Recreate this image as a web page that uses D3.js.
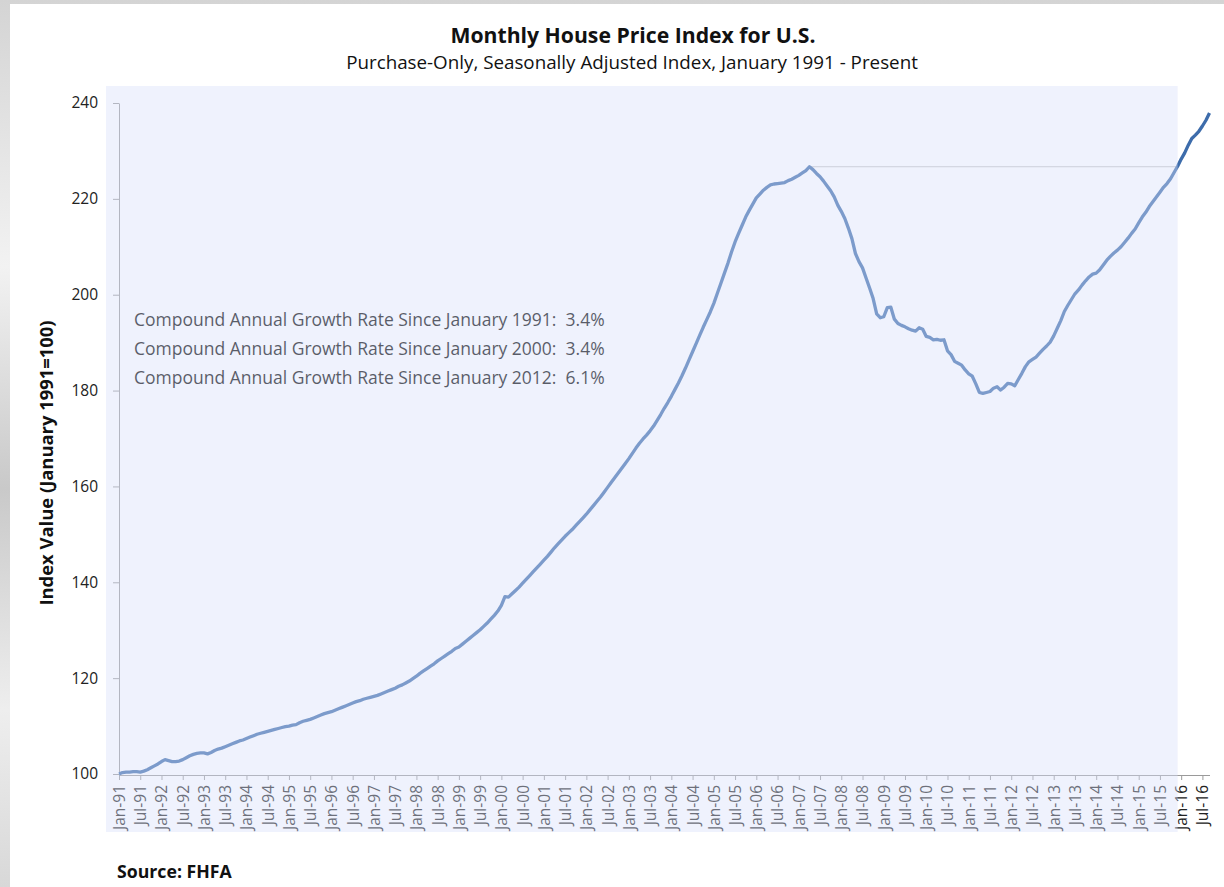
<!DOCTYPE html>
<html lang="en">
<head>
<meta charset="UTF-8" />
<script src="https://d3js.org/d3.v7.min.js"></script>
<title>Monthly House Price Index for U.S.</title>
<style>
  html, body { margin: 0; padding: 0; width: 1224px; height: 887px; overflow: hidden; }
  body { font-family: "Open Sans", Lato, sans-serif; background: #fff; }
</style>
</head>
<body>
<svg id="chart" width="1224" height="887"></svg>
<script>
// purchase-only SA index, Jan 1991 = 100, one row per year (Jan..Dec)
var hpi = [
  100.0, 100.3, 100.4, 100.4, 100.5, 100.5, 100.4, 100.6, 100.9, 101.3, 101.7, 102.1, // 1991
  102.6, 103.0, 102.8, 102.6, 102.6, 102.7, 103.0, 103.4, 103.8, 104.1, 104.3, 104.4, // 1992
  104.4, 104.2, 104.5, 104.9, 105.2, 105.4, 105.7, 106.0, 106.3, 106.6, 106.9, 107.1, // 1993
  107.4, 107.7, 108.0, 108.3, 108.5, 108.7, 108.9, 109.1, 109.3, 109.5, 109.7, 109.9, // 1994
  110.0, 110.2, 110.3, 110.7, 111.0, 111.2, 111.4, 111.7, 112.0, 112.3, 112.6, 112.8, // 1995
  113.0, 113.3, 113.6, 113.9, 114.2, 114.5, 114.8, 115.1, 115.3, 115.6, 115.8, 116.0, // 1996
  116.2, 116.4, 116.7, 117.0, 117.3, 117.6, 117.9, 118.3, 118.6, 119.0, 119.4, 119.9, // 1997
  120.4, 121.0, 121.5, 122.0, 122.5, 123.0, 123.6, 124.1, 124.6, 125.1, 125.6, 126.2, // 1998
  126.5, 127.1, 127.7, 128.3, 128.9, 129.5, 130.1, 130.8, 131.5, 132.3, 133.1, 134.0, // 1999
  135.2, 137.0, 136.9, 137.6, 138.3, 139.0, 139.8, 140.6, 141.4, 142.2, 143.0, 143.8, // 2000
  144.6, 145.4, 146.3, 147.2, 148.0, 148.8, 149.6, 150.3, 151.0, 151.8, 152.6, 153.4, // 2001
  154.2, 155.1, 156.0, 156.9, 157.8, 158.8, 159.8, 160.8, 161.8, 162.8, 163.8, 164.8, // 2002
  165.8, 166.9, 168.0, 169.0, 169.9, 170.7, 171.6, 172.6, 173.8, 175.0, 176.3, 177.5, // 2003
  178.8, 180.2, 181.6, 183.1, 184.7, 186.4, 188.1, 189.8, 191.5, 193.2, 194.8, 196.4, // 2004
  198.2, 200.3, 202.4, 204.5, 206.6, 208.9, 211.0, 212.8, 214.5, 216.2, 217.6, 218.9, // 2005
  220.2, 221.0, 221.8, 222.4, 222.9, 223.1, 223.2, 223.3, 223.4, 223.8, 224.1, 224.5, // 2006
  224.9, 225.4, 225.9, 226.7, 226.1, 225.3, 224.6, 223.7, 222.7, 221.7, 220.4, 218.7, // 2007
  217.4, 215.9, 213.9, 211.7, 208.6, 206.9, 205.6, 203.5, 201.4, 199.2, 196.0, 195.2, // 2008
  195.4, 197.3, 197.4, 194.9, 194.0, 193.6, 193.3, 192.9, 192.6, 192.4, 193.1, 192.8, // 2009
  191.3, 191.1, 190.6, 190.7, 190.5, 190.6, 188.3, 187.5, 186.1, 185.7, 185.3, 184.3, // 2010
  183.5, 183.0, 181.4, 179.6, 179.4, 179.6, 179.8, 180.5, 180.8, 180.1, 180.7, 181.5, // 2011
  181.4, 181.0, 182.3, 183.6, 185.0, 186.0, 186.5, 187.0, 187.8, 188.6, 189.3, 190.1, // 2012
  191.4, 193.0, 194.6, 196.5, 197.8, 199.0, 200.2, 201.0, 202.0, 202.9, 203.7, 204.3, // 2013
  204.5, 205.2, 206.2, 207.2, 208.0, 208.7, 209.3, 210.0, 210.9, 211.8, 212.8, 213.7, // 2014
  215.0, 216.2, 217.2, 218.4, 219.4, 220.4, 221.4, 222.4, 223.2, 224.2, 225.5, 226.8, // 2015
  228.3, 229.6, 231.2, 232.6, 233.3, 234.1, 235.2, 236.4, 237.9                        // 2016
];

// one label every six months, Jan-91 .. Jul-16
var xLabels = [
  "Jan-91","Jul-91","Jan-92","Jul-92","Jan-93","Jul-93","Jan-94","Jul-94","Jan-95","Jul-95",
  "Jan-96","Jul-96","Jan-97","Jul-97","Jan-98","Jul-98","Jan-99","Jul-99","Jan-00","Jul-00",
  "Jan-01","Jul-01","Jan-02","Jul-02","Jan-03","Jul-03","Jan-04","Jul-04","Jan-05","Jul-05",
  "Jan-06","Jul-06","Jan-07","Jul-07","Jan-08","Jul-08","Jan-09","Jul-09","Jan-10","Jul-10",
  "Jan-11","Jul-11","Jan-12","Jul-12","Jan-13","Jul-13","Jan-14","Jul-14","Jan-15","Jul-15",
  "Jan-16","Jul-16"
];
var yTicks = [100, 120, 140, 160, 180, 200, 220, 240];

var cagrLines = [
  "Compound Annual Growth Rate Since January 1991:  3.4%",
  "Compound Annual Growth Rate Since January 2000:  3.4%",
  "Compound Annual Growth Rate Since January 2012:  6.1%"
];

var FONT = "'Open Sans', Lato, sans-serif";
var svg = d3.select("#chart");

// grey backdrop the card sits on
var defs = svg.append("defs");
var grad = defs.append("linearGradient").attr("id", "marble")
  .attr("x1", "0").attr("y1", "0").attr("x2", "0").attr("y2", "1");
grad.append("stop").attr("offset", "0").attr("stop-color", "#d4d4d4");
grad.append("stop").attr("offset", "0.3").attr("stop-color", "#f2f2f2");
grad.append("stop").attr("offset", "0.55").attr("stop-color", "#c9c9c9");
grad.append("stop").attr("offset", "0.8").attr("stop-color", "#eeeeee");
grad.append("stop").attr("offset", "1").attr("stop-color", "#d8d8d8");
svg.append("rect").attr("width", 1224).attr("height", 887).attr("fill", "url(#marble)");
svg.append("rect").attr("x", 10).attr("y", 4).attr("width", 1214).attr("height", 883).attr("fill", "#fff");

// scales: months since Jan-91 on x (category style, equal spacing)
var x = d3.scaleLinear().domain([0, 308]).range([119, 1209.5]);
var y = d3.scaleLinear().domain([100, 240]).range([774, 103]);

var tickIdx = xLabels.map(function(d, i) { return i * 6; });

// x axis
var xAxis = svg.append("g")
  .attr("transform", "translate(0,775)")
  .call(d3.axisBottom(x).tickValues(tickIdx).tickSize(5).tickSizeOuter(0)
    .tickFormat(function(d, i) { return xLabels[i]; }));
xAxis.select(".domain").attr("stroke", "#9a9a9a");
xAxis.selectAll(".tick line").attr("stroke", "#9a9a9a");
xAxis.selectAll("text")
  .attr("transform", "rotate(-90)")
  .attr("text-anchor", "end")
  .attr("x", -10).attr("y", 0).attr("dy", "0.35em")
  .style("font-family", FONT).style("font-size", "15.5px").attr("fill", "#222");

// y axis
var yAxis = svg.append("g")
  .attr("transform", "translate(119,0)")
  .call(d3.axisLeft(y).tickValues(yTicks).tickSize(6).tickSizeOuter(0).tickPadding(15));
yAxis.select(".domain").attr("stroke", "#9a9a9a");
yAxis.selectAll(".tick line").attr("stroke", "#9a9a9a");
yAxis.selectAll("text").style("font-family", FONT).style("font-size", "15.5px").attr("fill", "#222");

// peak reference line, from the 2007 peak until the index gets back to it
var peakIdx = d3.maxIndex(hpi.slice(0, 250));
var peak = hpi[peakIdx];
var recoverIdx = hpi.findIndex(function(v, i) { return i > peakIdx && v >= peak; });
svg.append("line")
  .attr("x1", x(peakIdx)).attr("x2", x(recoverIdx))
  .attr("y1", y(peak)).attr("y2", y(peak))
  .attr("stroke", "#c4c4c4").attr("stroke-width", 1);

// the series
svg.append("path")
  .datum(hpi)
  .attr("fill", "none")
  .attr("stroke", "#3d6cab")
  .attr("stroke-width", 3.3)
  .attr("stroke-linejoin", "round")
  .attr("d", d3.line().x(function(d, i) { return x(i); }).y(function(d) { return y(d); }));

// growth rate notes
svg.append("g").selectAll("text")
  .data(cagrLines)
  .join("text")
  .attr("x", 134)
  .attr("y", function(d, i) { return 326 + i * 29; })
  .style("font-family", FONT).style("font-size", "17.5px")
  .attr("fill", "#000")
  .attr("xml:space", "preserve")
  .style("white-space", "pre")
  .text(function(d) { return d; });

// pale wash over the older part of the chart
svg.append("rect")
  .attr("x", 106).attr("y", 86)
  .attr("width", x(recoverIdx) - 106).attr("height", 832 - 86)
  .attr("fill", "rgb(216,223,250)").attr("fill-opacity", 0.41);

// titles
svg.append("text").attr("x", 633).attr("y", 43).attr("text-anchor", "middle")
  .style("font-family", FONT).style("font-size", "21.2px").style("font-weight", "bold")
  .attr("fill", "#111").text("Monthly House Price Index for U.S.");
svg.append("text").attr("x", 632).attr("y", 69).attr("text-anchor", "middle")
  .style("font-family", FONT).style("font-size", "18.8px")
  .attr("fill", "#111").text("Purchase-Only, Seasonally Adjusted Index, January 1991 - Present");

svg.append("text")
  .attr("transform", "translate(53,463) rotate(-90)")
  .attr("text-anchor", "middle")
  .style("font-family", FONT).style("font-size", "18.4px").style("font-weight", "bold")
  .attr("fill", "#111").text("Index Value (January 1991=100)");

svg.append("text").attr("x", 117).attr("y", 878)
  .style("font-family", FONT).style("font-size", "17.7px").style("font-weight", "bold")
  .attr("fill", "#111").text("Source: FHFA");
</script>
</body>
</html>
